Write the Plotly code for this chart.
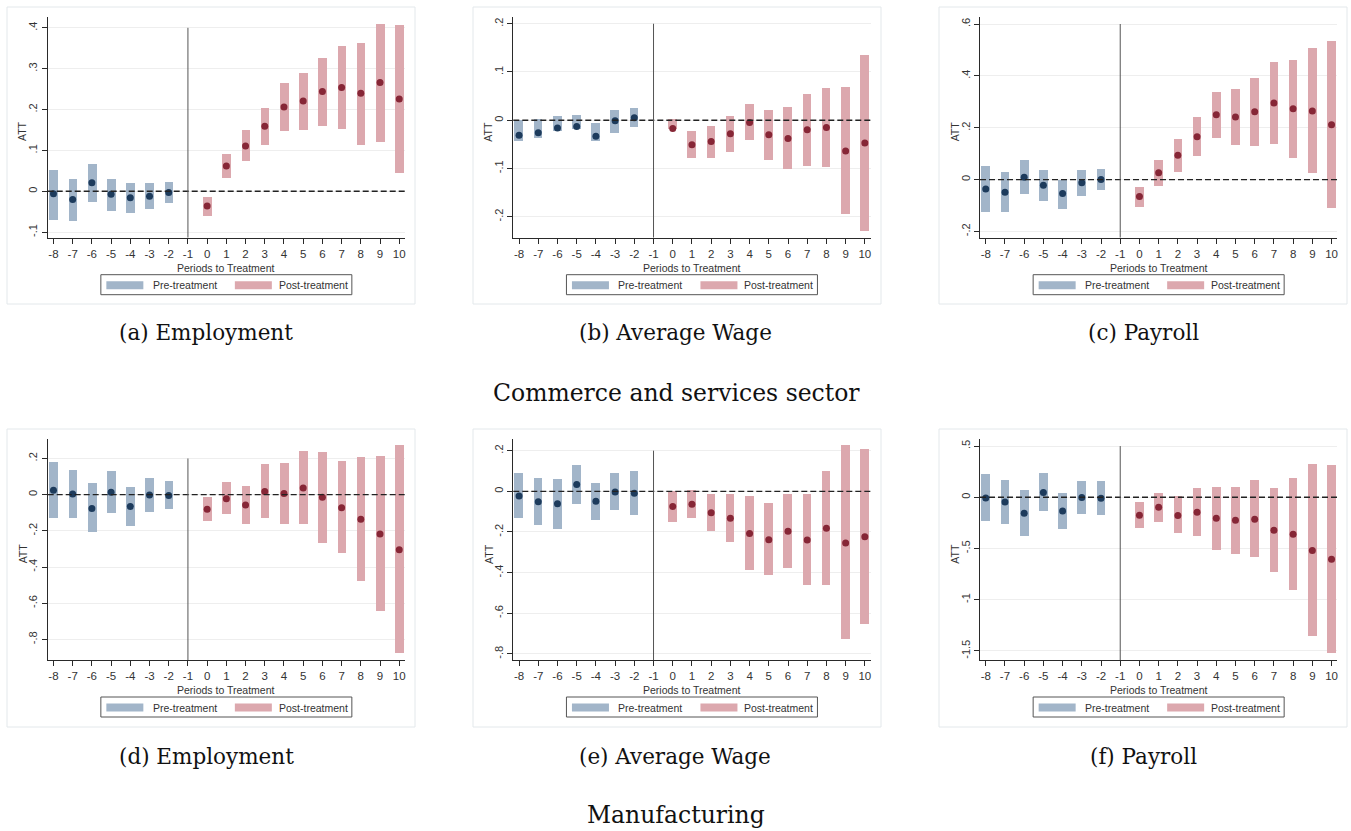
import plotly.graph_objects as go

# ---------------- data ----------------
pre_periods = [-8, -7, -6, -5, -4, -3, -2]
post_periods = [0, 1, 2, 3, 4, 5, 6, 7, 8, 9, 10]
x_ticks = list(range(-8, 11))

# Commerce and services sector
emp_cs_pre = [-0.006, -0.020, 0.021, -0.007, -0.016, -0.012, -0.003]
emp_cs_pre_lo = [-0.069, -0.073, -0.026, -0.049, -0.052, -0.043, -0.028]
emp_cs_pre_hi = [0.052, 0.030, 0.068, 0.030, 0.020, 0.020, 0.022]
emp_cs_post = [-0.036, 0.062, 0.111, 0.159, 0.206, 0.221, 0.244, 0.254, 0.240, 0.266, 0.226]
emp_cs_post_lo = [-0.060, 0.033, 0.074, 0.113, 0.148, 0.150, 0.161, 0.152, 0.114, 0.121, 0.046]
emp_cs_post_hi = [-0.014, 0.092, 0.149, 0.205, 0.265, 0.289, 0.327, 0.356, 0.363, 0.410, 0.406]

wage_cs_pre = [-0.031, -0.026, -0.016, -0.013, -0.033, -0.001, 0.005]
wage_cs_pre_lo = [-0.043, -0.036, -0.022, -0.019, -0.043, -0.026, -0.015]
wage_cs_pre_hi = [0.001, 0.002, 0.009, 0.011, -0.005, 0.022, 0.025]
wage_cs_post = [-0.017, -0.051, -0.044, -0.028, -0.005, -0.030, -0.038, -0.020, -0.015, -0.064, -0.047]
wage_cs_post_lo = [-0.019, -0.079, -0.079, -0.066, -0.042, -0.083, -0.102, -0.094, -0.098, -0.195, -0.230]
wage_cs_post_hi = [0.003, -0.022, -0.012, 0.008, 0.033, 0.022, 0.027, 0.055, 0.067, 0.068, 0.136]

pay_cs_pre = [-0.036, -0.049, 0.009, -0.022, -0.054, -0.012, 0.000]
pay_cs_pre_lo = [-0.123, -0.124, -0.056, -0.083, -0.113, -0.063, -0.041]
pay_cs_pre_hi = [0.051, 0.028, 0.077, 0.038, 0.000, 0.036, 0.042]
pay_cs_post = [-0.065, 0.026, 0.094, 0.165, 0.250, 0.241, 0.262, 0.295, 0.273, 0.265, 0.212]
pay_cs_post_lo = [-0.105, -0.026, 0.029, 0.090, 0.162, 0.133, 0.131, 0.136, 0.083, 0.026, -0.110]
pay_cs_post_hi = [-0.027, 0.077, 0.155, 0.241, 0.337, 0.350, 0.392, 0.454, 0.462, 0.506, 0.535]

# Manufacturing
emp_mf_pre = [0.024, 0.004, -0.076, 0.013, -0.066, -0.002, -0.004]
emp_mf_pre_lo = [-0.131, -0.133, -0.208, -0.103, -0.173, -0.096, -0.083]
emp_mf_pre_hi = [0.177, 0.135, 0.061, 0.129, 0.039, 0.088, 0.076]
emp_mf_post = [-0.081, -0.022, -0.057, 0.017, 0.006, 0.037, -0.015, -0.072, -0.136, -0.218, -0.304]
emp_mf_post_lo = [-0.146, -0.111, -0.162, -0.129, -0.166, -0.164, -0.267, -0.324, -0.481, -0.643, -0.877]
emp_mf_post_hi = [-0.015, 0.066, 0.046, 0.168, 0.175, 0.240, 0.236, 0.182, 0.206, 0.210, 0.271]

wage_mf_pre = [-0.023, -0.051, -0.061, 0.033, -0.049, -0.003, -0.010]
wage_mf_pre_lo = [-0.134, -0.167, -0.187, -0.062, -0.141, -0.095, -0.116]
wage_mf_pre_hi = [0.087, 0.062, 0.061, 0.128, 0.041, 0.089, 0.097]
wage_mf_post = [-0.075, -0.064, -0.105, -0.133, -0.207, -0.238, -0.197, -0.239, -0.182, -0.254, -0.223]
wage_mf_post_lo = [-0.152, -0.134, -0.198, -0.251, -0.387, -0.413, -0.377, -0.462, -0.462, -0.728, -0.652]
wage_mf_post_hi = [0.000, 0.007, -0.013, -0.016, -0.025, -0.061, -0.016, -0.016, 0.098, 0.225, 0.207]

pay_mf_pre = [-0.007, -0.046, -0.156, 0.046, -0.134, -0.003, -0.010]
pay_mf_pre_lo = [-0.231, -0.264, -0.378, -0.140, -0.309, -0.163, -0.176]
pay_mf_pre_hi = [0.221, 0.166, 0.065, 0.231, 0.039, 0.160, 0.153]
pay_mf_post = [-0.176, -0.098, -0.179, -0.147, -0.205, -0.225, -0.215, -0.322, -0.362, -0.521, -0.606]
pay_mf_post_lo = [-0.306, -0.241, -0.355, -0.381, -0.515, -0.554, -0.590, -0.736, -0.912, -1.362, -1.524]
pay_mf_post_hi = [-0.049, 0.042, 0.007, 0.085, 0.101, 0.101, 0.163, 0.091, 0.189, 0.319, 0.313]

# y-axis ticks for each panel
yt_emp_cs = [-0.1, 0, 0.1, 0.2, 0.3, 0.4]
yl_emp_cs = ["-.1", "0", ".1", ".2", ".3", ".4"]
yt_wage_cs = [-0.2, -0.1, 0, 0.1, 0.2]
yl_wage_cs = ["-.2", "-.1", "0", ".1", ".2"]
yt_pay_cs = [-0.2, 0, 0.2, 0.4, 0.6]
yl_pay_cs = ["-.2", "0", ".2", ".4", ".6"]
yt_emp_mf = [-0.8, -0.6, -0.4, -0.2, 0, 0.2]
yl_emp_mf = ["-.8", "-.6", "-.4", "-.2", "0", ".2"]
yt_wage_mf = [-0.8, -0.6, -0.4, -0.2, 0, 0.2]
yl_wage_mf = ["-.8", "-.6", "-.4", "-.2", "0", ".2"]
yt_pay_mf = [-1.5, -1, -0.5, 0, 0.5]
yl_pay_mf = ["-1.5", "-1", "-.5", "0", ".5"]

captions = ["(a) Employment", "(b) Average Wage", "(c) Payroll",
            "(d) Employment", "(e) Average Wage", "(f) Payroll"]
row_titles = ["Commerce and services sector", "Manufacturing"]
legend_labels = ["Pre-treatment", "Post-treatment"]
x_title = "Periods to Treatment"
y_title = "ATT"

# ---------------- layout helpers ----------------
W, H = 1351, 831
PRE_BAR, POST_BAR = "#a2b5c9", "#dca8ae"
PRE_DOT, POST_DOT = "#1d3b5c", "#862636"
AXIS_COL = "#2a2a2a"
SANS = "Liberation Sans, Arial, sans-serif"
SERIF = "DejaVu Serif, serif"


def px_x(p):
    return p / W


def px_y(p):
    return 1 - p / H


panels = [
    dict(pre=(emp_cs_pre, emp_cs_pre_lo, emp_cs_pre_hi), post=(emp_cs_post, emp_cs_post_lo, emp_cs_post_hi),
         yt=yt_emp_cs, yl=yl_emp_cs, yr=[-0.1135, 0.4265]),
    dict(pre=(wage_cs_pre, wage_cs_pre_lo, wage_cs_pre_hi), post=(wage_cs_post, wage_cs_post_lo, wage_cs_post_hi),
         yt=yt_wage_cs, yl=yl_wage_cs, yr=[-0.2436, 0.214]),
    dict(pre=(pay_cs_pre, pay_cs_pre_lo, pay_cs_pre_hi), post=(pay_cs_post, pay_cs_post_lo, pay_cs_post_hi),
         yt=yt_pay_cs, yl=yl_pay_cs, yr=[-0.224, 0.627]),
    dict(pre=(emp_mf_pre, emp_mf_pre_lo, emp_mf_pre_hi), post=(emp_mf_post, emp_mf_post_lo, emp_mf_post_hi),
         yt=yt_emp_mf, yl=yl_emp_mf, yr=[-0.914, 0.306]),
    dict(pre=(wage_mf_pre, wage_mf_pre_lo, wage_mf_pre_hi), post=(wage_mf_post, wage_mf_post_lo, wage_mf_post_hi),
         yt=yt_wage_mf, yl=yl_wage_mf, yr=[-0.830, 0.256]),
    dict(pre=(pay_mf_pre, pay_mf_pre_lo, pay_mf_pre_hi), post=(pay_mf_post, pay_mf_post_lo, pay_mf_post_hi),
         yt=yt_pay_mf, yl=yl_pay_mf, yr=[-1.589, 0.566]),
]

col_left = [47.7, 513.3, 980.0]
plot_w = 357.3
row_top = [17.0, 439.3]
row_bot = [237.7, 660.0]
region_left = [7, 473, 939]
region_w = 408
region_top = [7, 429]
region_bot = [304, 727]
caption_cx = [206, 675, 1143]
caption_y = [333, 756]
row_title_y = [393, 815]

fig = go.Figure()
shapes = []
annotations = []
layout_axes = {}

for i, p in enumerate(panels):
    r, c = divmod(i, 3)
    sfx = "" if i == 0 else str(i + 1)
    xa, ya = "x" + sfx, "y" + sfx
    x0, x1 = col_left[c], col_left[c] + plot_w
    yt_px, yb_px = row_top[r], row_bot[r]

    # outer graph region frame
    shapes.append(dict(type="rect", xref="paper", yref="paper", layer="below",
                       x0=px_x(region_left[c]), x1=px_x(region_left[c] + region_w),
                       y0=px_y(region_bot[r]), y1=px_y(region_top[r]),
                       line=dict(color="#e3e8eb", width=1), fillcolor="white"))

    pre_pt, pre_lo, pre_hi = p["pre"]
    post_pt, post_lo, post_hi = p["post"]
    for xs, pt, lo, hi, bc, dc in ((pre_periods, pre_pt, pre_lo, pre_hi, PRE_BAR, PRE_DOT),
                                   (post_periods, post_pt, post_lo, post_hi, POST_BAR, POST_DOT)):
        fig.add_trace(go.Bar(x=xs, y=[h - l for h, l in zip(hi, lo)], base=lo, width=0.45,
                             marker=dict(color=bc, line=dict(width=0)),
                             xaxis=xa, yaxis=ya, showlegend=False, hoverinfo="skip"))
        fig.add_trace(go.Scatter(x=xs, y=pt, mode="markers",
                                 marker=dict(color=dc, size=7, line=dict(width=0)),
                                 xaxis=xa, yaxis=ya, showlegend=False))

    layout_axes["xaxis" + sfx] = dict(
        domain=[px_x(x0), px_x(x1)], anchor=ya, range=[-8.3, 10.3],
        tickmode="array", tickvals=x_ticks, ticktext=[str(v) for v in x_ticks],
        ticks="outside", ticklen=5, tickcolor=AXIS_COL, tickwidth=1,
        showline=True, linecolor=AXIS_COL, linewidth=1, showgrid=False, zeroline=False,
        tickfont=dict(family=SANS, size=11.5, color="#333"), fixedrange=True)
    layout_axes["yaxis" + sfx] = dict(
        domain=[px_y(yb_px), px_y(yt_px)], anchor=xa, range=p["yr"],
        tickmode="array", tickvals=p["yt"], ticktext=p["yl"], tickangle=-90,
        ticks="outside", ticklen=5, tickcolor=AXIS_COL, tickwidth=1,
        showline=True, linecolor=AXIS_COL, linewidth=1,
        showgrid=True, gridcolor="#eeeeee", gridwidth=1, zeroline=False,
        tickfont=dict(family=SANS, size=11, color="#333"), fixedrange=True)

    # dashed reference line at zero
    shapes.append(dict(type="line", xref=xa + " domain", yref=ya, x0=0, x1=1, y0=0, y1=0,
                       line=dict(color="#222", width=1.4, dash="6px,3px")))
    # treatment marker at period -1
    shapes.append(dict(type="line", xref=xa, yref=ya, x0=-1, x1=-1,
                       y0=p["yr"][0], y1=max(p["yt"]),
                       line=dict(color="#555", width=1)))

    cx = (x0 + x1) / 2
    # axis titles
    annotations.append(dict(text=x_title, x=px_x(cx), y=px_y(yb_px + 30), xref="paper", yref="paper",
                            showarrow=False, xanchor="center", yanchor="middle",
                            font=dict(family=SANS, size=10.5, color="#333")))
    annotations.append(dict(text=y_title, x=px_x(x0 - 25), y=px_y((yt_px + yb_px) / 2 + 4),
                            xref="paper", yref="paper", textangle=-90,
                            showarrow=False, xanchor="center", yanchor="middle",
                            font=dict(family=SANS, size=10.5, color="#333")))

    # legend box
    bl = cx - 125.5
    bt = yb_px + 37
    shapes.append(dict(type="rect", xref="paper", yref="paper",
                       x0=px_x(bl), x1=px_x(bl + 251), y0=px_y(bt + 20), y1=px_y(bt),
                       line=dict(color="#555", width=1), fillcolor="white"))
    for off, col, lab, toff in ((5.5, PRE_BAR, legend_labels[0], 50), (134, POST_BAR, legend_labels[1], 176)):
        shapes.append(dict(type="rect", xref="paper", yref="paper",
                           x0=px_x(bl + off), x1=px_x(bl + off + 37),
                           y0=px_y(bt + 14.5), y1=px_y(bt + 6.5),
                           line=dict(width=0), fillcolor=col))
        annotations.append(dict(text=lab, x=px_x(bl + toff), y=px_y(bt + 10.5), xref="paper", yref="paper",
                                showarrow=False, xanchor="left", yanchor="middle",
                                font=dict(family=SANS, size=10.5, color="#333")))

    # subfigure caption
    annotations.append(dict(text=captions[i], x=px_x(caption_cx[c]), y=px_y(caption_y[r]),
                            xref="paper", yref="paper", showarrow=False,
                            xanchor="center", yanchor="middle",
                            font=dict(family=SERIF, size=21.5, color="#111")))

for r in range(2):
    annotations.append(dict(text=row_titles[r], x=px_x(676), y=px_y(row_title_y[r]),
                            xref="paper", yref="paper", showarrow=False,
                            xanchor="center", yanchor="middle",
                            font=dict(family=SERIF, size=23.5, color="#111")))

fig.update_layout(
    width=W, height=H, margin=dict(l=0, r=0, t=0, b=0),
    paper_bgcolor="white", plot_bgcolor="white",
    shapes=shapes, annotations=annotations, showlegend=False,
    bargap=0, **layout_axes)

fig.write_html("out.html", config={"displayModeBar": False})
